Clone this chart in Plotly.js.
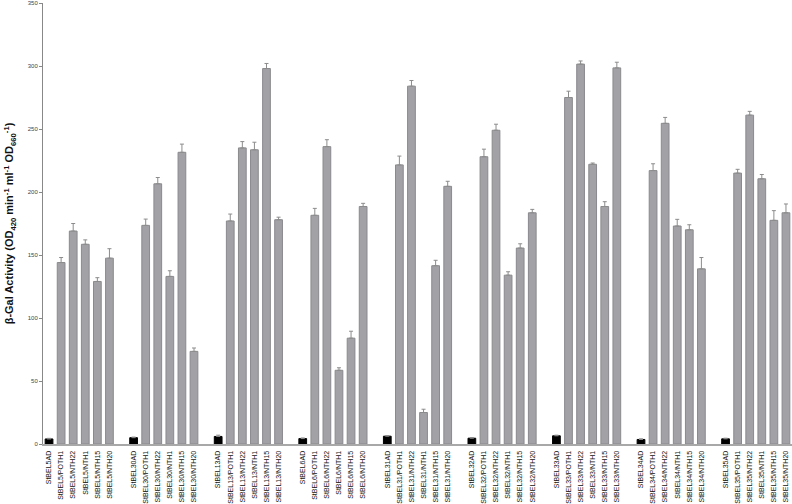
<!DOCTYPE html>
<html>
<head>
<meta charset="utf-8">
<script src="https://cdn.plot.ly/plotly-3.0.1.min.js"></script>
<style>
  html, body { margin: 0; padding: 0; background: #fff; }
  #chart { width: 792px; height: 504px; }
</style>
</head>
<body>
<div id="chart"></div>
<script>
// constructs, in drawing order
var constructs = ['StBEL5', 'StBEL30', 'StBEL13', 'StBEL6', 'StBEL31', 'StBEL32', 'StBEL33', 'StBEL34', 'StBEL35'];
var partners = ['AD', '/POTH1', '/NTH22', '/NTH1', '/NTH15', '/NTH20'];

// mean activity, one row per construct (AD, POTH1, NTH22, NTH1, NTH15, NTH20)
var means = [
  [4,   144, 169, 158.5, 129, 147.5],
  [5,   173.5, 206.5, 133, 231.5, 73.5],
  [6,   177, 235, 233.5, 298, 178],
  [4.3, 181.5, 236, 58.5, 84, 188.5],
  [6.2, 221.5, 284, 25, 141.5, 204.5],
  [4.6, 228, 249, 134, 155.5, 183.5],
  [6.5, 275, 301.5, 222, 188.5, 298.5],
  [3.6, 217, 254.5, 173, 170, 139],
  [4.1, 215, 261, 210.5, 177.5, 183.5]
];

// upper error bars
var errs = [
  [0.5, 4,   6,   3.5, 3,   7.5],
  [0.5, 5,   5,   4.5, 6.5, 2.7],
  [1,   5.5, 5,   6,   4,   2],
  [0.5, 5.5, 5.5, 2,   5.5, 2.5],
  [0.5, 7,   4.5, 2.6, 4.3, 4],
  [0.5, 6,   4.8, 2.7, 3.4, 2.7],
  [0.5, 5,   2.5, 1,   3.8, 4.5],
  [0.5, 5.4, 4.7, 5.3, 4,   9],
  [0.5, 3,   3,   3.4, 7.7, 7]
];

var cats = [], ys = [], es = [], cols = [], lines = [];
constructs.forEach(function (c, i) {
  partners.forEach(function (p, j) {
    cats.push(c + p);
    ys.push(means[i][j]);
    es.push(errs[i][j]);
    cols.push(j === 0 ? '#000000' : '#a2a2a6');
    lines.push(j === 0 ? '#000000' : '#8a8a8e');
  });
  if (i < constructs.length - 1) {
    // blank spacer slot between groups
    cats.push(' '.repeat(i + 1));
    ys.push(null);
    es.push(null);
    cols.push('#ffffff');
    lines.push('#ffffff');
  }
});

var trace = {
  x: cats,
  y: ys,
  type: 'bar',
  marker: { color: cols, line: { color: lines, width: 1 } },
  error_y: {
    type: 'data',
    symmetric: false,
    array: es,
    arrayminus: es.map(function () { return 0; }),
    color: '#8c8c8c',
    thickness: 1,
    width: 2
  },
  hoverinfo: 'x+y'
};

var layout = {
  width: 792,
  height: 504,
  margin: { l: 43, r: 0, t: 3, b: 60, pad: 0 },
  paper_bgcolor: '#fff',
  plot_bgcolor: '#fff',
  showlegend: false,
  bargap: 0.36,
  font: { family: 'Liberation Sans, Arial, sans-serif', color: '#333' },
  xaxis: {
    type: 'category',
    categoryorder: 'array',
    categoryarray: cats,
    tickangle: -90,
    tickfont: { size: 7, color: '#111' },
    ticks: '',
    ticklabelstandoff: 2,
    showline: true,
    linecolor: '#a8a8a8',
    linewidth: 2,
    showgrid: false,
    automargin: false
  },
  yaxis: {
    range: [0, 350],
    dtick: 50,
    tickfont: { size: 6, color: '#444' },
    ticks: 'outside',
    ticklen: 3,
    tickcolor: '#888',
    showline: true,
    linecolor: '#888',
    linewidth: 1,
    showgrid: false,
    zeroline: false,
    automargin: false,
    title: {
      text: 'β-Gal Activity (OD<sub>420</sub> min<sup>-1</sup> ml<sup>-1</sup> OD<sub>660</sub><sup>-1</sup>)',
      font: { size: 11, color: '#111', family: 'Liberation Sans, Arial, sans-serif', weight: 'bold' },
      standoff: 11
    }
  }
};

Plotly.newPlot('chart', [trace], layout, { staticPlot: true });
</script>
</body>
</html>
